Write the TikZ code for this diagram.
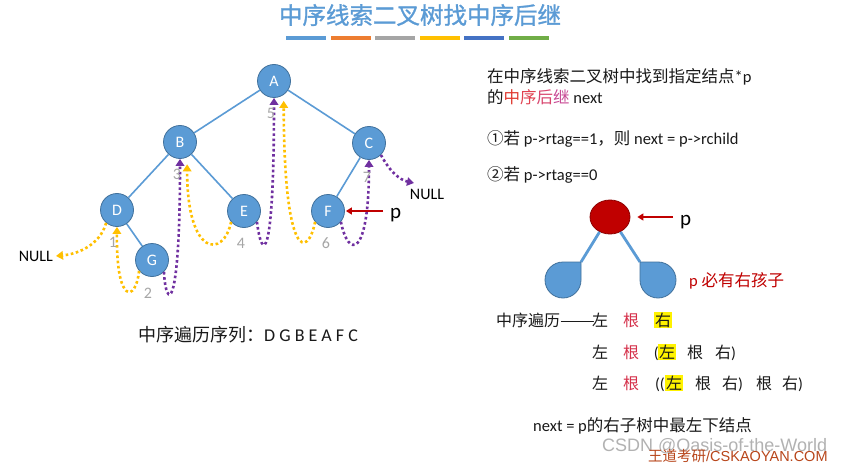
\documentclass[tikz,border=0pt]{standalone}
\usepackage{fontspec}
\setmainfont{Carlito}
\newfontfamily\cjk{Noto Sans CJK SC}
\newfontfamily\cjkb[FakeBold=1.2]{Noto Sans CJK SC}
\newfontfamily\arialf{Liberation Sans}
\usetikzlibrary{arrows.meta,shapes.geometric}
\definecolor{nodeblue}{HTML}{5B9BD5}
\definecolor{nodeedge}{HTML}{41719C}
\definecolor{thy}{HTML}{FFC000}
\definecolor{thp}{HTML}{7030A0}
\definecolor{darkred}{HTML}{C00000}
\definecolor{numgray}{HTML}{A6A6A6}
\definecolor{barA}{HTML}{5B9BD5}
\definecolor{barB}{HTML}{ED7D31}
\definecolor{barC}{HTML}{A5A5A5}
\definecolor{barD}{HTML}{FFC000}
\definecolor{barE}{HTML}{4472C4}
\definecolor{barF}{HTML}{70AD47}
\definecolor{gA}{HTML}{E0382E}
\definecolor{gB}{HTML}{E0404F}
\definecolor{gC}{HTML}{D8456E}
\definecolor{gD}{HTML}{C84A95}
\definecolor{rootc}{HTML}{D5304A}
\definecolor{wdred}{HTML}{B8461B}
\begin{document}
\begin{tikzpicture}[x=1pt,y=-1pt,
  tn/.style={circle, fill=nodeblue, draw=nodeedge, line width=0.8pt, minimum size=33pt, inner sep=0pt, text=white, font=\fontsize{16}{16}\selectfont},
  tedge/.style={draw=nodeblue, line width=1.6pt},
  ythr/.style={draw=thy, line width=2.6pt, dash pattern=on 2.6pt off 2.6pt, -{Triangle[length=7pt,width=8.5pt]}},
  pthr/.style={draw=thp, line width=2.6pt, dash pattern=on 2.6pt off 2.6pt, -{Triangle[length=7pt,width=8.5pt]}},
  numl/.style={text=numgray, font=\fontsize{16}{16}\selectfont, inner sep=0pt},
  nulll/.style={font=\fontsize{16}{16}\selectfont, inner sep=0pt},
  redarr/.style={draw=darkred, line width=2pt, -{Triangle[length=6pt,width=7pt]}},
  plabel/.style={anchor=base west, inner sep=0pt, font=\fontsize{21}{21}\selectfont},
  rt/.style={anchor=base west, inner sep=0pt, text=black!90, font=\fontsize{16.5}{16.5}\selectfont},
  tc/.style={anchor=base, inner sep=0pt, text=black!90, font=\cjk\fontsize{16}{16}\selectfont},
  hl/.style={fill=yellow, inner sep=0.8pt},
  bluel/.style={draw=nodeblue, line width=2.8pt},
  blob/.style={fill=nodeblue, draw=nodeedge, line width=0.8pt}
]
\useasboundingbox (0,0) rectangle (850,465);
\fill[white] (0,0) rectangle (850,465);

% title
\node[anchor=base, inner sep=0pt, text=nodeblue, font=\cjkb\fontsize{23.5}{23.5}\selectfont] (title) at (420,24) {中序线索二叉树找中序后继};
\foreach \c/\x in {barA/286, barB/331, barC/375, barD/420, barE/464, barF/509}{
  \fill[\c] (\x,36) rectangle (\x+40,40);
}

% tree
\node[tn] (A) at (274,81) {A};
\node[tn] (B) at (180,142) {B};
\node[tn] (C) at (369,143) {C};
\node[tn] (D) at (117,210) {D};
\node[tn] (E) at (244,211) {E};
\node[tn] (F) at (328,211) {F};
\node[tn] (G) at (152,260) {G};
\draw[tedge] (A) -- (B);
\draw[tedge] (A) -- (C);
\draw[tedge] (B) -- (D);
\draw[tedge] (B) -- (E);
\draw[tedge] (C) -- (F);
\draw[tedge] (D) -- (G);

% NULL labels
\node[nulll, anchor=east] (nl) at (53,256) {NULL};
\node[nulll] (nr) at (427,194) {NULL};
\coordinate (nrtip) at (414,183);

% yellow threads
\draw[ythr] (D.-130) .. controls (100,245) and (78,254) .. ([xshift=3pt]nl.east);
\draw[ythr] (G.-140) .. controls (136,302) and (116,306) .. (D.south);
\draw[ythr, shorten >=7pt] (E.-140) .. controls (224,258) and (187,258) .. (B.-65);
\draw[ythr, shorten >=6pt] (F.-140) .. controls (308,258) and (284,262) .. (A.-55);

% purple threads
\draw[pthr] (G.-45) .. controls (166,310) and (180,315) .. (B.south);
\draw[pthr] (E.-40) .. controls (262,262) and (274,265) .. (A.south);
\draw[pthr] (F.-40) .. controls (348,258) and (369,260) .. (C.south);
\draw[pthr] (C.-45) .. controls (390,172) and (400,180) .. (nrtip);

% numbers
\node[numl] (n1) at (113,242) {1};
\node[numl] (n2) at (148,293) {2};
\node[numl] (n3) at (177,174) {3};
\node[numl] (n4) at (241,243) {4};
\node[numl] (n5) at (271,113) {5};
\node[numl] (n6) at (326,243) {6};
\node[numl] (n7) at (367,177) {7};

% p pointer at F
\node[plabel] (pF) at (390,218) {p};
\coordinate (pFtail) at (383,211);
\draw[redarr, shorten >=1pt] (pFtail) -- (F.east);

% bottom sequence
\node[anchor=base west, inner sep=0pt, text=black!90, font=\fontsize{18}{18}\selectfont] (seq) at (138,341) {{\cjk 中序遍历序列：}D G B E A F C};

% right side text
\node[rt] (t1) at (487,83) {{\cjk 在中序线索二叉树中找到指定结点}*p};
\node[rt] (t2) at (487,104) {{\cjk 的}{\cjk\color{gA}中}{\cjk\color{gB}序}{\cjk\color{gC}后}{\cjk\color{gD}继} next};
\node[rt] (t3) at (487,145) {{\cjk ①若} p->rtag==1{\cjk ，则} next = p->rchild};
\node[rt] (t4) at (487,180) {{\cjk ②若} p->rtag==0};

% small tree
\node[ellipse, fill=darkred, draw=red!55!black, line width=0.8pt, minimum width=40pt, minimum height=34pt, inner sep=0pt] (R) at (610,217) {};
\coordinate (lbc) at (581,262);
\coordinate (rbc) at (640,262);
\draw[bluel] (R.-125) -- (lbc);
\draw[bluel] (R.-55) -- (rbc);
\filldraw[blob] (581,262) -- (581,280) .. controls (581,289.94) and (572.94,298) .. (563,298) .. controls (553.06,298) and (545,289.94) .. (545,280) .. controls (545,270.06) and (553.06,262) .. (563,262) -- cycle;
\filldraw[blob] (640,262) -- (658,262) .. controls (667.94,262) and (676,270.06) .. (676,280) .. controls (676,289.94) and (667.94,298) .. (658,298) .. controls (648.06,298) and (640,289.94) .. (640,280) -- cycle;
\node[plabel] (p2) at (680,225) {p};
\coordinate (p2tail) at (673,217);
\draw[redarr, shorten >=7pt] (p2tail) -- (R.east);
\node[rt, text=darkred] (must) at (689,286) {p {\cjk 必有右孩子}};

% traversal rows
\node[tc, anchor=base west] (r1a) at (496,326) {中序遍历\scalebox{1.3}[1]{——}};
\node[tc] (r1b) at (600,326) {左};
\node[tc, text=rootc] (r1c) at (631,326) {根};
\node[tc, hl] (r1d) at (663,326) {右};

\node[tc] (r2a) at (600,358) {左};
\node[tc, text=rootc] (r2b) at (631,358) {根};
\node[tc, font=\fontsize{16}{16}\selectfont, anchor=base east] (r2c) at (659,358) {(};
\node[tc, hl] (r2d) at (667,358) {左};
\node[tc] (r2e) at (695,358) {根};
\node[tc, anchor=base west] (r2f) at (715,358) {右\fontspec{Carlito})};

\node[tc] (r3a) at (600,389) {左};
\node[tc, text=rootc] (r3b) at (631,389) {根};
\node[tc, font=\fontsize{16}{16}\selectfont, anchor=base east] (r3c) at (665,389) {((};
\node[tc, hl] (r3d) at (674,389) {左};
\node[tc] (r3e) at (703,389) {根};
\node[tc, anchor=base west] (r3f) at (722,389) {右\fontspec{Carlito})};
\node[tc] (r3g) at (764,389) {根};
\node[tc, anchor=base west] (r3h) at (782,389) {右\fontspec{Carlito})};

\node[rt] (nextl) at (533,431) {next = p{\cjk 的右子树中最左下结点}};

% footer watermarks
\node[anchor=base west, inner sep=0pt, text=black!30, font=\arialf\fontsize{18}{18}\selectfont] (csdn) at (602,451) {CSDN @Oasis-of-the-World};
\node[anchor=base west, inner sep=0pt, text=wdred, font=\arialf\fontsize{14.5}{14.5}\selectfont] (wd) at (648,461) {{\cjk 王道考研}/CSKAOYAN.COM};
\end{tikzpicture}
\end{document}
